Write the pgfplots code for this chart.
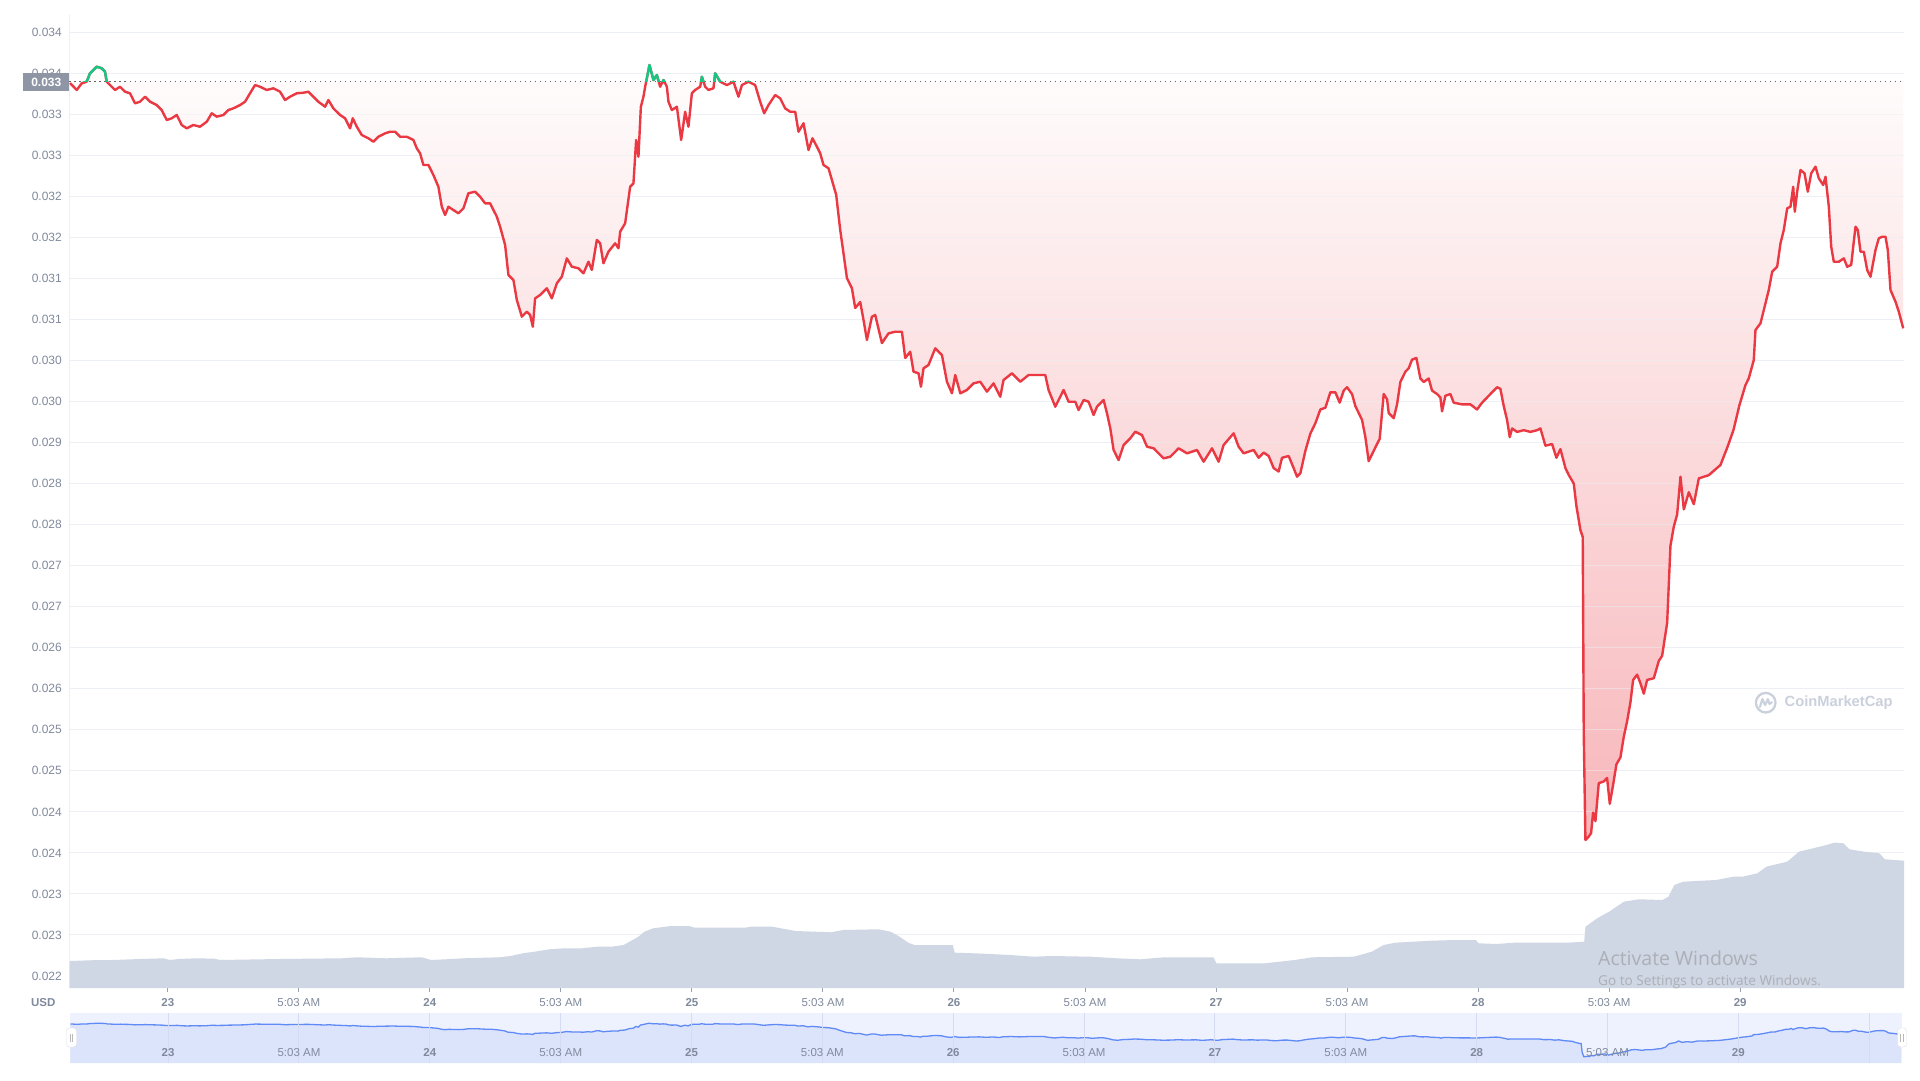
\documentclass[border=0pt]{standalone}
\usepackage{pgfplots}
\pgfplotsset{compat=1.18}
\usepackage{pgfplotstable}
\usepackage{fontspec}
\setmainfont{Liberation Sans}
\newfontfamily\winfont{Open Sans}

\definecolor{cmcred}{RGB}{234,57,67}
\definecolor{cmcgreen}{RGB}{22,199,132}
\definecolor{ticktext}{RGB}{128,138,157}
\definecolor{gridc}{RGB}{236,239,243}
\definecolor{volc}{RGB}{207,214,228}
\definecolor{boxc}{RGB}{142,150,166}
\definecolor{navbg}{RGB}{238,242,254}
\definecolor{navfill}{RGB}{220,228,251}
\definecolor{navline}{RGB}{96,138,246}
\definecolor{navgrid}{RGB}{212,219,242}
\definecolor{wmark}{RGB}{202,208,220}
\definecolor{wintext}{RGB}{172,175,182}

% price, USD (day of month as decimal)
\pgfplotstableread{
d p
22.6269 0.033447
22.6525 0.033361
22.6716 0.033443
22.6906 0.033463
22.7032 0.033567
22.7288 0.033649
22.7479 0.033629
22.7605 0.033587
22.7670 0.033463
22.7861 0.033401
22.7987 0.033361
22.8177 0.033401
22.8368 0.033340
22.8559 0.033320
22.8750 0.033196
22.8941 0.033216
22.9132 0.033278
22.9323 0.033216
22.9578 0.033175
22.9769 0.033113
22.9960 0.032990
23.0151 0.033011
23.0342 0.033052
23.0532 0.032928
23.0723 0.032887
23.0975 0.032928
23.1231 0.032907
23.1487 0.032969
23.1678 0.033073
23.1868 0.033031
23.2120 0.033052
23.2311 0.033113
23.2502 0.033134
23.2758 0.033175
23.2949 0.033216
23.3139 0.033320
23.3330 0.033422
23.3521 0.033401
23.3777 0.033361
23.4029 0.033382
23.4284 0.033340
23.4475 0.033237
23.4666 0.033278
23.4922 0.033320
23.5174 0.033327
23.5365 0.033340
23.5555 0.033278
23.5746 0.033216
23.6002 0.033154
23.6128 0.033237
23.6319 0.033134
23.6574 0.033052
23.6765 0.033011
23.6956 0.032887
23.7059 0.033011
23.7212 0.032907
23.7403 0.032804
23.7655 0.032764
23.7845 0.032722
23.8036 0.032783
23.8292 0.032825
23.8483 0.032845
23.8674 0.032845
23.8865 0.032783
23.9120 0.032783
23.9372 0.032743
23.9502 0.032640
23.9628 0.032578
23.9754 0.032434
23.9945 0.032434
24.0136 0.032310
24.0326 0.032165
24.0456 0.031918
24.0582 0.031816
24.0708 0.031918
24.0899 0.031877
24.1090 0.031837
24.1281 0.031898
24.1471 0.032084
24.1727 0.032104
24.1918 0.032042
24.2109 0.031960
24.2300 0.031960
24.2555 0.031795
24.2681 0.031671
24.2872 0.031445
24.2998 0.031074
24.3189 0.031012
24.3319 0.030765
24.3510 0.030559
24.3700 0.030620
24.3826 0.030580
24.3929 0.030435
24.4017 0.030786
24.4208 0.030827
24.4464 0.030910
24.4655 0.030786
24.4845 0.030971
24.5036 0.031053
24.5227 0.031280
24.5418 0.031177
24.5670 0.031157
24.5861 0.031095
24.6052 0.031238
24.6181 0.031136
24.6372 0.031507
24.6498 0.031466
24.6624 0.031219
24.6815 0.031362
24.7071 0.031466
24.7197 0.031404
24.7261 0.031609
24.7452 0.031713
24.7643 0.032165
24.7769 0.032207
24.7872 0.032743
24.7960 0.032536
24.8052 0.033154
24.8151 0.033278
24.8216 0.033401
24.8380 0.033670
24.8533 0.033484
24.8662 0.033546
24.8788 0.033401
24.8914 0.033484
24.9044 0.033401
24.9105 0.033216
24.9235 0.033113
24.9426 0.033154
24.9590 0.032743
24.9742 0.033092
24.9868 0.032907
24.9998 0.033320
25.0124 0.033361
25.0315 0.033401
25.0380 0.033525
25.0506 0.033401
25.0632 0.033361
25.0822 0.033382
25.0887 0.033567
25.1078 0.033463
25.1334 0.033422
25.1586 0.033463
25.1777 0.033278
25.1907 0.033422
25.2158 0.033463
25.2414 0.033422
25.2605 0.033216
25.2758 0.033073
25.2922 0.033175
25.3178 0.033299
25.3368 0.033258
25.3559 0.033134
25.3750 0.033092
25.3941 0.033092
25.4067 0.032845
25.4258 0.032949
25.4449 0.032619
25.4601 0.032764
25.4769 0.032660
25.4895 0.032578
25.5021 0.032434
25.5212 0.032393
25.5342 0.032248
25.5506 0.032063
25.5659 0.031630
25.5784 0.031342
25.5914 0.031037
25.6105 0.030910
25.6231 0.030666
25.6422 0.030740
25.6548 0.030518
25.6678 0.030271
25.6868 0.030559
25.6994 0.030580
25.7250 0.030233
25.7502 0.030353
25.7758 0.030373
25.8013 0.030373
25.8139 0.030048
25.8330 0.030126
25.8456 0.029879
25.8647 0.029859
25.8739 0.029693
25.8838 0.029921
25.9029 0.029962
25.9284 0.030168
25.9540 0.030085
25.9731 0.029755
25.9922 0.029612
26.0048 0.029838
26.0239 0.029612
26.0494 0.029653
26.0746 0.029735
26.1002 0.029755
26.1258 0.029632
26.1510 0.029735
26.1765 0.029570
26.1891 0.029776
26.2212 0.029859
26.2529 0.029755
26.2846 0.029838
26.3166 0.029838
26.3483 0.029838
26.3609 0.029653
26.3865 0.029446
26.4182 0.029653
26.4372 0.029508
26.4628 0.029508
26.4754 0.029405
26.4945 0.029529
26.5136 0.029508
26.5327 0.029344
26.5456 0.029446
26.5708 0.029529
26.5838 0.029365
26.5964 0.029179
26.6090 0.028911
26.6281 0.028787
26.6472 0.028973
26.6727 0.029056
26.6918 0.029137
26.7174 0.029096
26.7365 0.028952
26.7617 0.028932
26.7998 0.028808
26.8254 0.028828
26.8571 0.028932
26.8891 0.028870
26.9273 0.028911
26.9525 0.028766
26.9846 0.028932
27.0098 0.028766
27.0288 0.028973
27.0670 0.029117
27.0861 0.028952
27.1052 0.028870
27.1434 0.028911
27.1625 0.028815
27.1816 0.028879
27.2007 0.028837
27.2198 0.028687
27.2389 0.028645
27.2516 0.028815
27.2770 0.028837
27.2961 0.028687
27.3089 0.028581
27.3216 0.028623
27.3407 0.028900
27.3598 0.029114
27.3788 0.029241
27.3979 0.029412
27.4170 0.029433
27.4361 0.029624
27.4552 0.029624
27.4717 0.029496
27.4870 0.029645
27.4997 0.029687
27.5188 0.029603
27.5315 0.029454
27.5570 0.029283
27.5697 0.029070
27.5824 0.028773
27.5951 0.028858
27.6142 0.028985
27.6244 0.029049
27.6397 0.029603
27.6524 0.029539
27.6588 0.029368
27.6778 0.029304
27.6906 0.029475
27.7033 0.029752
27.7224 0.029879
27.7351 0.029922
27.7478 0.030028
27.7644 0.030049
27.7796 0.029795
27.7924 0.029752
27.8114 0.029795
27.8241 0.029645
27.8432 0.029603
27.8560 0.029560
27.8623 0.029389
27.8750 0.029581
27.8941 0.029603
27.9068 0.029496
27.9386 0.029475
27.9705 0.029475
27.9959 0.029412
28.0150 0.029496
28.0341 0.029560
28.0531 0.029624
28.0722 0.029687
28.0850 0.029666
28.0977 0.029454
28.1104 0.029283
28.1206 0.029070
28.1295 0.029177
28.1486 0.029135
28.1740 0.029156
28.1995 0.029135
28.2249 0.029156
28.2377 0.029177
28.2567 0.028964
28.2822 0.028985
28.2987 0.028815
28.3140 0.028922
28.3331 0.028687
28.3458 0.028602
28.3649 0.028496
28.3750 0.028219
28.3903 0.027921
28.3992 0.027836
28.4030 0.025409
28.4094 0.024091
28.4221 0.024133
28.4310 0.024176
28.4387 0.024430
28.4476 0.024324
28.4603 0.024793
28.4794 0.024814
28.4921 0.024857
28.5023 0.024537
28.5150 0.024772
28.5277 0.025026
28.5430 0.025112
28.5557 0.025367
28.5685 0.025559
28.5812 0.025793
28.5914 0.026069
28.6066 0.026134
28.6194 0.026027
28.6321 0.025899
28.6448 0.026069
28.6703 0.026090
28.6893 0.026304
28.7021 0.026367
28.7110 0.026559
28.7212 0.026772
28.7339 0.027729
28.7466 0.027964
28.7593 0.028113
28.7721 0.028581
28.7848 0.028177
28.8039 0.028389
28.8230 0.028241
28.8420 0.028560
28.8800 0.028600
28.9247 0.028726
28.9514 0.028948
28.9743 0.029158
28.9972 0.029467
29.0201 0.029714
29.0327 0.029797
29.0518 0.030023
29.0583 0.030394
29.0774 0.030477
29.0964 0.030724
29.1090 0.030889
29.1220 0.031115
29.1411 0.031177
29.1537 0.031466
29.1663 0.031630
29.1793 0.031898
29.1919 0.031918
29.2022 0.032165
29.2083 0.031856
29.2174 0.032104
29.2300 0.032372
29.2453 0.032331
29.2579 0.032104
29.2709 0.032331
29.2873 0.032413
29.2999 0.032269
29.3167 0.032186
29.3255 0.032289
29.3381 0.031918
29.3472 0.031424
29.3571 0.031238
29.3762 0.031238
29.3953 0.031280
29.4083 0.031177
29.4235 0.031198
29.4312 0.031424
29.4400 0.031671
29.4487 0.031630
29.4590 0.031362
29.4716 0.031362
29.4846 0.031136
29.4972 0.031053
29.5163 0.031383
29.5289 0.031528
29.5419 0.031547
29.5544 0.031547
29.5632 0.031383
29.5735 0.030889
29.5926 0.030744
29.6052 0.030620
29.6220 0.030415
}\price

% volume, relative units
\pgfplotstableread{
d v
22.6250 2.70
22.6296 2.70
22.7357 2.80
22.7926 2.80
22.8941 2.90
22.9849 2.97
23.0074 2.80
23.0414 2.90
23.1094 2.97
23.1773 2.93
23.1998 2.80
23.3586 2.87
23.4265 2.90
23.6639 2.97
23.7208 3.07
23.8338 2.97
23.9697 3.07
24.0036 2.80
24.0601 2.87
24.1281 2.97
24.2639 3.07
24.3094 3.20
24.3544 3.47
24.3998 3.63
24.4563 3.87
24.5132 3.97
24.5807 3.97
24.6376 4.13
24.6941 4.13
24.7395 4.30
24.7735 4.80
24.7960 5.13
24.8185 5.63
24.8525 5.97
24.9204 6.20
24.9884 6.20
25.0109 6.03
25.2032 6.03
25.2262 6.13
25.3055 6.13
25.3395 5.97
25.3960 5.70
25.5315 5.57
25.5769 5.80
25.7128 5.87
25.7582 5.63
25.7922 5.13
25.8258 4.53
25.8483 4.30
25.9956 4.30
26.0025 3.53
26.0750 3.47
26.1384 3.40
26.2136 3.30
26.3040 3.13
26.3720 3.20
26.5189 3.13
26.6208 2.97
26.7113 2.87
26.8021 3.07
26.9899 3.07
27.0013 2.47
27.1868 2.47
27.3002 2.80
27.3678 3.07
27.5265 3.13
27.5941 3.63
27.6395 4.30
27.6849 4.53
27.8208 4.73
27.9113 4.80
27.9907 4.80
28.0017 4.47
28.0697 4.40
28.1376 4.53
28.3414 4.53
28.4048 4.63
28.4094 6.13
28.4544 6.97
28.4998 7.63
28.5563 8.63
28.6128 8.87
28.7036 8.80
28.7262 9.13
28.7487 10.30
28.7827 10.63
28.9075 10.80
28.9754 11.13
29.0094 11.13
29.0659 11.47
29.0998 12.13
29.1792 12.63
29.2243 13.63
29.3147 14.20
29.3601 14.53
29.3941 14.47
29.4166 13.87
29.4731 13.63
29.5300 13.47
29.5525 12.87
29.6250 12.73
}\volume

\begin{document}
\begin{tikzpicture}[x=1pt,y=1pt]
\fill[white] (0,0) rectangle (1920,1080);

% ---- price chart
\begin{axis}[
  at={(69.5pt,92pt)}, anchor=south west,
  width=1834.5pt, height=973pt, scale only axis,
  xmin=22.625, xmax=29.625, ymin=0.022261, ymax=0.034288,
  clip=false,
  axis line style={draw=none},
  ymajorgrids, grid style={gridc, line width=1pt},
  major tick length=0pt, tick style={draw=none},
  scaled y ticks=false,
  ytick={0.022410,0.022917,0.023424,0.023931,0.024438,0.024945,0.025452,0.025959,
         0.026466,0.026973,0.027480,0.027987,0.028494,0.029001,0.029508,0.030015,
         0.030522,0.031029,0.031536,0.032043,0.032550,0.033057,0.033564,0.034071},
  yticklabels={0.022,0.023,0.023,0.024,0.024,0.025,0.025,0.026,0.026,0.027,0.027,0.028,
               0.028,0.029,0.030,0.030,0.031,0.031,0.032,0.032,0.033,0.033,0.034,0.034},
  xtick={23,23.5,24,24.5,25,25.5,26,26.5,27,27.5,28,28.5,29},
  xticklabels={\textbf{23},5:03 AM,\textbf{24},5:03 AM,\textbf{25},5:03 AM,\textbf{26},
               5:03 AM,\textbf{27},5:03 AM,\textbf{28},5:03 AM,\textbf{29}},
  tick label style={text=ticktext, inner sep=0pt},
  yticklabel style={anchor=east, xshift=-7.5pt, font=\fontsize{12}{14}\selectfont},
  xticklabel style={anchor=base, yshift=-18pt, font=\fontsize{11.5}{13}\selectfont},
]
% area between the price and the opening price, shaded
\addplot[draw=none, top color=cmcred!1!white, bottom color=cmcred!37!white, forget plot]
  table {\price} -- (axis cs:29.6220,0.033463) -- (axis cs:22.6269,0.033463) -- cycle;
% faint grid seen through the fill
\pgfplotsinvokeforeach{0.024438,0.024945,0.025452,0.025959,0.026466,0.026973,0.027480,
  0.027987,0.028494,0.029001,0.029508,0.030015,0.030522,0.031029,0.031536,0.032043,
  0.032550,0.033057}{
  \draw[gridc, line width=1pt, opacity=0.5] (axis cs:22.625,#1) -- (axis cs:29.625,#1);
}
% left axis line and x ticks
\draw[gridc, line width=1pt] (axis cs:22.625,0.022261) -- (axis cs:22.625,0.034288);
\pgfplotsinvokeforeach{23,23.5,24,24.5,25,25.5,26,26.5,27,27.5,28,28.5,29}{
  \draw[ticktext!80, line width=1pt] (axis cs:#1,0.022261) -- ++(0pt,-4pt);
}
\addplot[gray!80!black, line width=1.2pt, dash pattern=on 1.2pt off 3.8pt]
  coordinates {(22.625,0.033463) (29.625,0.033463)};
\addplot[cmcred, line width=2.4pt, line join=round] table {\price};
\begin{scope}
  \clip (axis cs:22.625,0.033463) rectangle (axis cs:29.625,0.034288);
  \addplot[cmcgreen, line width=2.4pt, line join=round] table {\price};
\end{scope}
\end{axis}

% ---- volume
\begin{axis}[
  at={(69.5pt,92pt)}, anchor=south west,
  width=1834.5pt, height=973pt, scale only axis,
  xmin=22.625, xmax=29.625, ymin=0, ymax=97.3,
  hide axis,
]
\addplot[fill=volc, draw=none] table {\volume} \closedcycle;
\end{axis}

% ---- navigator
\fill[navbg] (70,17) rectangle (1902,67);
\begin{axis}[
  at={(70pt,17pt)}, anchor=south west,
  width=1832pt, height=50pt, scale only axis,
  xmin=22.625, xmax=29.625, ymin=0.02228, ymax=0.03659,
  axis line style={draw=none}, axis on top,
  xmajorgrids, grid style={navgrid, line width=1pt},
  ytick=\empty, major tick length=0pt, tick style={draw=none},
  xtick={23,23.5,24,24.5,25,25.5,26,26.5,27,27.5,28,28.5,29,29.5},
  xticklabels={\textbf{23},5:03 AM,\textbf{24},5:03 AM,\textbf{25},5:03 AM,\textbf{26},
               5:03 AM,\textbf{27},5:03 AM,\textbf{28},5:03 AM,\textbf{29},{}},
  xticklabel style={anchor=base, yshift=7pt, inner sep=0pt, text=ticktext,
                    font=\fontsize{11.5}{13}\selectfont},
]
\addplot[fill=navfill, draw=none] table {\price} \closedcycle;
\addplot[navline, line width=1.3pt] table {\price};
\end{axis}
% navigator grips
\draw[fill=white, draw=gray!25, rounded corners=3pt] (66.5,33) rectangle (76.5,52);
\draw[gray!55, line width=0.8pt] (70.3,38.5) -- (70.3,46.5) (72.7,38.5) -- (72.7,46.5);
\draw[fill=white, draw=gray!25, rounded corners=3pt] (1897.5,33) rectangle (1906.5,52);
\draw[gray!55, line width=0.8pt] (1900.8,38.5) -- (1900.8,46.5) (1903.2,38.5) -- (1903.2,46.5);

% current price tag
\node[fill=boxc, text=white, font=\bfseries\fontsize{12}{14}\selectfont,
      minimum width=46pt, minimum height=18.5pt, inner sep=0pt, anchor=east]
  at (69.5,998) {0.033};
\node[anchor=base, inner sep=0pt, text=ticktext, font=\bfseries\fontsize{11.5}{13}\selectfont]
  at (43.2,74) {USD};

% watermark
\begin{scope}[shift={(1765.7,377.3)}]
  \draw[wmark, line width=2.3pt] (0,0) circle (9.8);
  \draw[wmark, line width=2.1pt, line cap=round, line join=round]
    (-5.8,-4.2) -- (-3.3,3.6) -- (-0.6,-2.4) -- (2.2,3.6) -- (3.6,-1.2) -- (6.2,0.4);
\end{scope}
\node[anchor=west, inner sep=0pt, text=wmark, font=\bfseries\fontsize{14.7}{16}\selectfont]
  at (1784.5,377.3) {CoinMarketCap};

% windows activation overlay
\node[anchor=base west, inner sep=0pt, text=wintext, font=\winfont\fontsize{19.5}{22}\selectfont]
  at (1598,115) {Activate Windows};
\node[anchor=base west, inner sep=0pt, text=wintext, font=\winfont\fontsize{13.6}{16}\selectfont]
  at (1598,95) {Go to Settings to activate Windows.};
\end{tikzpicture}
\end{document}
